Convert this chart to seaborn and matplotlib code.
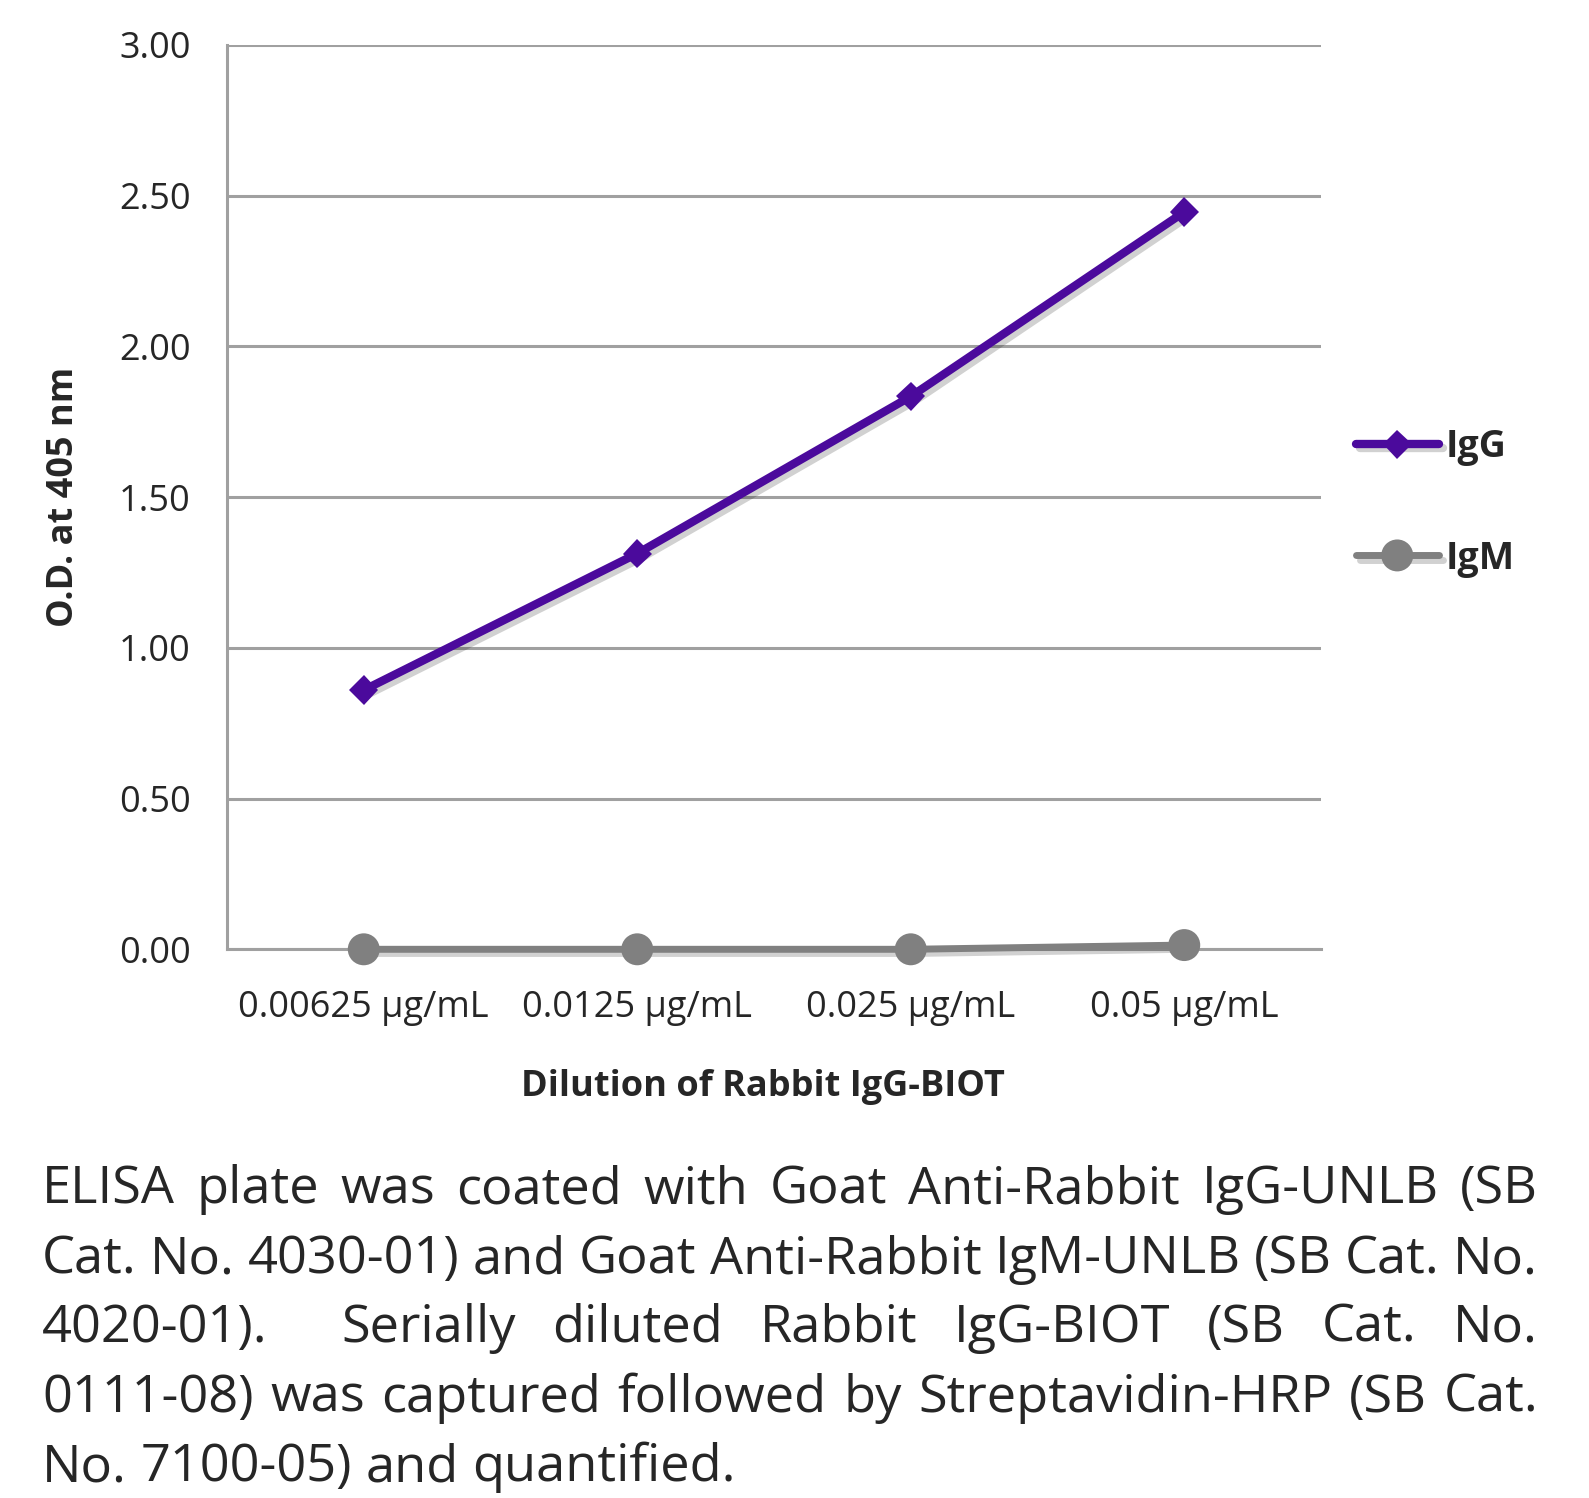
import numpy as np
import pandas as pd
import matplotlib
matplotlib.use("Agg")
import matplotlib.pyplot as plt
import matplotlib.patheffects as pe
from matplotlib.ticker import FixedLocator
import seaborn as sns

# values
dilutions = ["0.00625 µg/mL", "0.0125 µg/mL", "0.025 µg/mL", "0.05 µg/mL"]
igg = [0.86, 1.313, 1.834, 2.446]
igm = [0.0, 0.0, 0.0, 0.014]
series_names = ["IgG", "IgM"]
series_colors = ["#4b0a9c", "#808080"]

caption_lines = [
    "ELISA plate was coated with Goat Anti-Rabbit IgG-UNLB (SB",
    "Cat. No. 4030-01) and Goat Anti-Rabbit IgM-UNLB (SB Cat. No.",
    "4020-01).  Serially diluted Rabbit IgG-BIOT (SB Cat. No.",
    "0111-08) was captured followed by Streptavidin-HRP (SB Cat.",
    "No. 7100-05) and quantified.",
]

sns.set_style("white")
plt.rcParams["font.family"] = ["Open Sans", "DejaVu Sans"]

W, H = 1589, 1498
fig = plt.figure(figsize=(W / 100, H / 100), dpi=100)
ax = fig.add_axes([227 / W, 1 - 949.3 / H, (1321 - 227) / W, (949.3 - 45) / H])

grid_c = "#a0a0a0"
fs = 26
shadow = [pe.SimpleLineShadow(offset=(3, -3), shadow_color="k", alpha=0.18), pe.Normal()]

df = pd.DataFrame({"dilution": dilutions * 2,
                   "od": igg + igm,
                   "series": [series_names[0]] * 4 + [series_names[1]] * 4})

sns.lineplot(data=df[df.series == "IgG"], x="dilution", y="od", sort=False,
             color=series_colors[0], marker="D", markersize=15, markeredgewidth=0,
             linewidth=6, ax=ax, label="IgG", zorder=4, clip_on=False)
sns.lineplot(data=df[df.series == "IgM"], x="dilution", y="od", sort=False,
             color=series_colors[1], marker="o", markersize=23, markeredgewidth=0,
             linewidth=5, ax=ax, label="IgM", zorder=4, clip_on=False)
for ln in ax.lines:
    ln.set_path_effects(shadow)

ax.set_xlim(-0.5, 3.5)
ax.set_ylim(0, 3)
ax.set_yticks(np.arange(0, 3.01, 0.5))
ax.set_yticklabels([f"{v:.2f}" for v in np.arange(0, 3.01, 0.5)])
ax.xaxis.set_minor_locator(FixedLocator(np.arange(-0.5, 3.6, 1)))
ax.tick_params(axis="x", which="major", length=0, pad=29, labelsize=fs)
ax.tick_params(axis="x", which="minor", length=9, width=2.2, color=grid_c, direction="out")
ax.tick_params(axis="y", length=10, width=2.2, color=grid_c, pad=16, labelsize=fs)
ax.yaxis.grid(True, color=grid_c, linewidth=2.2)
ax.set_axisbelow(True)
for s in ["top", "right"]:
    ax.spines[s].set_visible(False)
for s in ["left", "bottom"]:
    ax.spines[s].set_color(grid_c)
    ax.spines[s].set_linewidth(2.2)

ax.set_xlabel("Dilution of Rabbit IgG-BIOT", fontsize=fs, fontweight="bold", va="center")
ax.xaxis.set_label_coords(0.49, -0.152)
ax.set_ylabel("O.D. at 405 nm", fontsize=fs, fontweight="bold", va="center")
ax.yaxis.set_label_coords(-0.149, 0.5)

leg = ax.legend(loc="center left", bbox_to_anchor=(1356 / W, 1 - 503 / H),
                bbox_transform=fig.transFigure, frameon=False, fontsize=fs + 1,
                handlelength=2.2, handletextpad=0.2, labelspacing=1.95,
                borderpad=0, borderaxespad=0)
for t in leg.get_texts():
    t.set_fontweight("bold")

# justified caption below the chart
left, right = 42, 1538
baselines = [1203, 1273, 1342, 1412, 1481]
fig.canvas.draw()
r = fig.canvas.get_renderer()
cap_size = 40
probe = fig.text(0, 0, caption_lines[1], fontsize=cap_size)
natural = probe.get_window_extent(r).width
probe.remove()
if natural > right - left:
    cap_size = cap_size * (right - left) / natural
sp_a = fig.text(0, 0, "x x", fontsize=cap_size)
sp_b = fig.text(0, 0, "xx", fontsize=cap_size)
space_w = sp_a.get_window_extent(r).width - sp_b.get_window_extent(r).width
sp_a.remove()
sp_b.remove()

for i, line in enumerate(caption_lines):
    words = line.split(" ")
    texts = [fig.text(0, 1 - baselines[i] / H, w, fontsize=cap_size, va="baseline", ha="left")
             for w in words]
    widths = [t.get_window_extent(r).width if w else 0 for t, w in zip(texts, words)]
    if i < len(caption_lines) - 1 and len(words) > 1:
        gap = (right - left - sum(widths)) / (len(words) - 1)
    else:
        gap = space_w
    x = left
    for t, w in zip(texts, widths):
        t.set_x(x / W)
        x += w + gap

fig.savefig("out.png", dpi=100)
